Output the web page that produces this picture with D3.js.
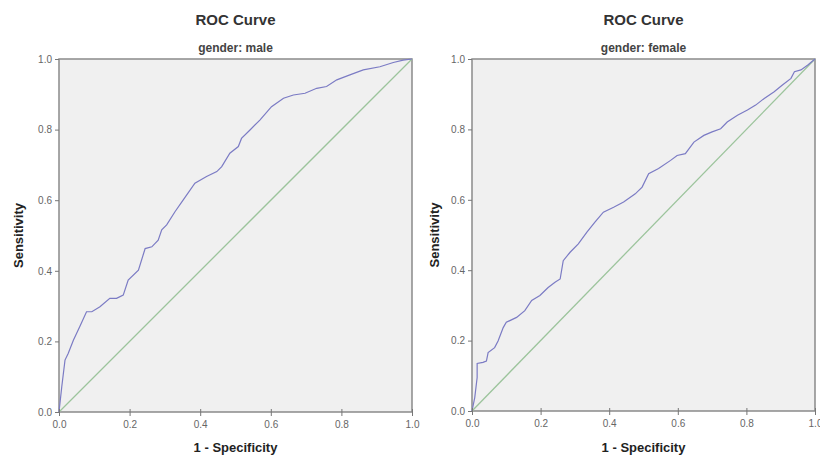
<!DOCTYPE html>
<html>
<head>
<meta charset="utf-8">
<script src="https://cdn.jsdelivr.net/npm/d3@7"></script>
<style>
  body { margin: 0; background: #fff; }
  svg text { font-family: "Liberation Sans", Arial, sans-serif; }
</style>
</head>
<body>
<div class="roc"></div>
<script>
// ROC points (1 - specificity, sensitivity)
const maleFpr = [0, 0.008, 0.017, 0.026, 0.041, 0.059, 0.078, 0.093, 0.116, 0.144, 0.163, 0.182, 0.196, 0.225, 0.244, 0.263, 0.281, 0.291, 0.305, 0.329, 0.352, 0.385, 0.418, 0.447, 0.461, 0.484, 0.508, 0.517, 0.541, 0.569, 0.602, 0.636, 0.664, 0.697, 0.730, 0.758, 0.787, 0.824, 0.862, 0.909, 0.947, 0.975, 1];
const maleTpr = [0, 0.073, 0.147, 0.166, 0.204, 0.242, 0.284, 0.284, 0.298, 0.322, 0.322, 0.331, 0.374, 0.402, 0.463, 0.468, 0.487, 0.516, 0.530, 0.568, 0.601, 0.648, 0.667, 0.681, 0.695, 0.733, 0.752, 0.775, 0.799, 0.827, 0.865, 0.889, 0.898, 0.903, 0.917, 0.922, 0.941, 0.955, 0.969, 0.978, 0.990, 0.997, 1];

const femaleFpr = [0, 0.008, 0.015, 0.015, 0.032, 0.042, 0.047, 0.066, 0.076, 0.091, 0.100, 0.130, 0.154, 0.174, 0.198, 0.222, 0.242, 0.257, 0.266, 0.286, 0.310, 0.335, 0.359, 0.383, 0.413, 0.442, 0.476, 0.496, 0.515, 0.544, 0.579, 0.598, 0.622, 0.647, 0.676, 0.700, 0.725, 0.744, 0.774, 0.803, 0.827, 0.852, 0.881, 0.905, 0.930, 0.940, 0.959, 0.979, 1];
const femaleTpr = [0, 0.038, 0.095, 0.135, 0.138, 0.142, 0.166, 0.180, 0.199, 0.237, 0.252, 0.266, 0.285, 0.314, 0.328, 0.351, 0.366, 0.375, 0.427, 0.451, 0.475, 0.508, 0.537, 0.565, 0.579, 0.594, 0.617, 0.636, 0.674, 0.689, 0.712, 0.726, 0.731, 0.764, 0.783, 0.793, 0.802, 0.821, 0.840, 0.855, 0.869, 0.888, 0.907, 0.926, 0.945, 0.964, 0.969, 0.983, 1];

const tickValues = [0, 0.2, 0.4, 0.6, 0.8, 1.0];
const chartTitle = "ROC Curve";
const subtitles = ["gender: male", "gender: female"];
const xLabel = "1 - Specificity";
const yLabel = "Sensitivity";

const svg = d3.select(".roc")
    .append("svg")
    .attr("width", 820)
    .attr("height", 460);

const panels = [
    { left: 59, right: 412, top: 59, bottom: 412, fpr: maleFpr, tpr: maleTpr, sub: subtitles[0], yLabX: 18 },
    { left: 472, right: 815, top: 59, bottom: 411, fpr: femaleFpr, tpr: femaleTpr, sub: subtitles[1], yLabX: 434 }
];

panels.forEach(p => drawPanel(p));

function drawPanel(p) {
    const x = d3.scaleLinear().domain([0, 1]).range([p.left, p.right]);
    const y = d3.scaleLinear().domain([0, 1]).range([p.bottom, p.top]);
    const cx = (p.left + p.right) / 2;

    const g = svg.append("g");

    g.append("rect")
        .attr("x", x(0))
        .attr("y", y(1))
        .attr("width", x(1) - x(0))
        .attr("height", y(0) - y(1))
        .attr("fill", "#f0f0f0")
        .attr("stroke", "#8a8a8a")
        .attr("stroke-width", 1.5);

    // reference diagonal
    g.append("line")
        .attr("x1", x(0)).attr("y1", y(0))
        .attr("x2", x(1)).attr("y2", y(1))
        .attr("stroke", "#9cc49c")
        .attr("stroke-width", 1.3);

    const pts = p.fpr.map((v, i) => [v, p.tpr[i]]);
    const line = d3.line().x(d => x(d[0])).y(d => y(d[1]));

    g.append("path")
        .datum(pts)
        .attr("d", line)
        .attr("fill", "none")
        .attr("stroke", "#7b7bc4")
        .attr("stroke-width", 1.2);

    const xAxis = d3.axisBottom(x).tickValues(tickValues).tickFormat(d3.format(".1f")).tickSizeInner(4).tickSizeOuter(0);
    const yAxis = d3.axisLeft(y).tickValues(tickValues).tickFormat(d3.format(".1f")).tickSizeInner(4).tickSizeOuter(0);

    const gx = g.append("g")
        .attr("transform", `translate(0, ${p.bottom})`)
        .call(xAxis);
    const gy = g.append("g")
        .attr("transform", `translate(${p.left}, 0)`)
        .call(yAxis);

    [gx, gy].forEach(a => {
        a.select(".domain").remove();
        a.selectAll("line").attr("stroke", "#777");
        a.selectAll("text")
            .attr("fill", "#666")
            .style("font-size", "10px");
    });
    gx.selectAll("line").attr("y1", -3);
    gx.selectAll("text").attr("dy", "0.85em");

    g.append("text")
        .attr("x", cx)
        .attr("y", 25)
        .attr("text-anchor", "middle")
        .style("font-size", "15px")
        .style("font-weight", "bold")
        .attr("fill", "#333")
        .text(chartTitle);

    g.append("text")
        .attr("x", cx)
        .attr("y", 52)
        .attr("text-anchor", "middle")
        .style("font-size", "12px")
        .style("font-weight", "bold")
        .attr("fill", "#444")
        .text(p.sub);

    g.append("text")
        .attr("x", cx)
        .attr("y", 452)
        .attr("text-anchor", "middle")
        .style("font-size", "13px")
        .style("font-weight", "bold")
        .attr("fill", "#222")
        .text(xLabel);

    g.append("text")
        .attr("transform", `translate(${p.yLabX}, ${(p.top + p.bottom) / 2}) rotate(-90)`)
        .attr("dy", "0.35em")
        .attr("text-anchor", "middle")
        .style("font-size", "13px")
        .style("font-weight", "bold")
        .attr("fill", "#222")
        .text(yLabel);
}
</script>
</body>
</html>
